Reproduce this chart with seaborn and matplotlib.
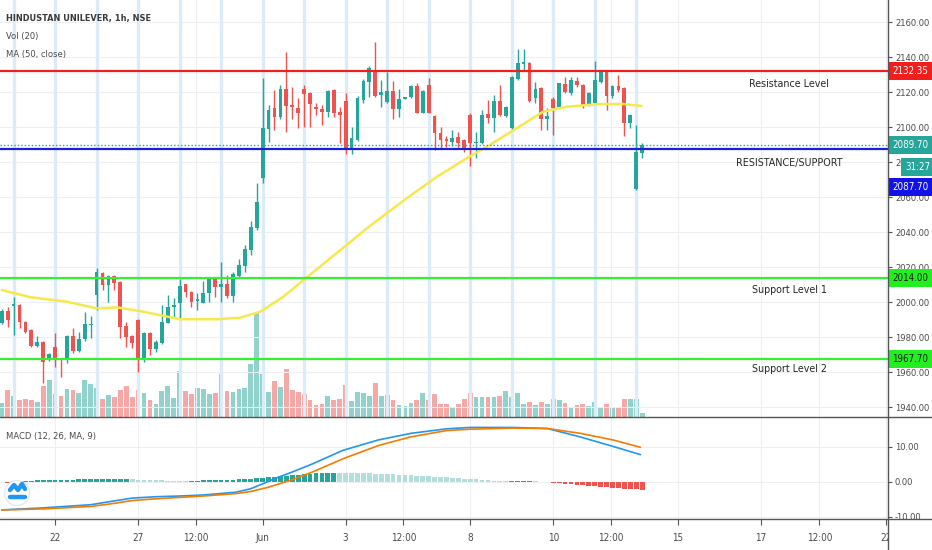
import numpy as np
import pandas as pd
import seaborn as sns
import matplotlib
matplotlib.use("Agg")
import matplotlib.pyplot as plt
import matplotlib.transforms as mtransforms
from matplotlib import font_manager
from matplotlib.ticker import FormatStrFormatter
from matplotlib.lines import Line2D
from matplotlib.patches import Circle

# HINDUSTAN UNILEVER, 1h candles (oldest first)
opens = [
    1988.4, 1995.3, 1998.0, 1998.5, 1989.0, 1984.3, 1975.1, 1977.6, 1967.1, 1974.4,
    1968.1, 1967.5, 1981.0, 1972.4, 1978.9, 1987.0, 2004.2, 2016.6, 2009.9, 2015.1,
    2011.8, 1986.7, 1981.0, 1990.0, 1967.5, 1982.4, 1973.2, 1977.0, 1988.4, 1997.6,
    1999.5, 2010.3, 2006.1, 2001.0, 1999.9, 2005.2, 2013.2, 2008.6, 2010.3, 2003.7,
    2015.1, 2020.8, 2029.9, 2042.3, 2070.9, 2098.9, 2110.9, 2105.7, 2121.7, 2112.8,
    2110.9, 2121.7, 2119.4, 2111.8, 2110.6, 2108.9, 2121.3, 2108.9, 2115.0, 2087.5,
    2092.8, 2115.6, 2126.1, 2132.7, 2118.5, 2114.6, 2120.7, 2110.6, 2116.3, 2117.1,
    2123.6, 2108.4, 2124.2, 2106.5, 2096.9, 2093.3, 2091.8, 2094.3, 2092.8, 2107.0,
    2090.9, 2090.9, 2107.4, 2105.2, 2115.2, 2106.5, 2099.4, 2127.4, 2136.0, 2136.9,
    2116.6, 2122.3, 2104.6, 2116.0, 2111.8, 2124.7, 2119.8, 2126.6, 2124.2, 2112.8,
    2114.1, 2126.1, 2131.8, 2117.9, 2123.6, 2122.3, 2102.3, 2064.6, 2085.5]
highs = [
    1996.0, 1997.6, 2003.3, 1999.0, 1989.5, 1985.0, 1981.0, 1978.0, 1971.0, 1982.4,
    1968.5, 1981.5, 1985.2, 1983.3, 1994.4, 1992.3, 2019.5, 2017.2, 2015.6, 2015.6,
    2012.3, 1989.0, 1981.5, 1990.5, 1983.0, 1983.0, 1978.5, 1998.5, 2004.2, 2002.4,
    2013.2, 2010.8, 2006.5, 2005.2, 2012.4, 2014.3, 2014.3, 2023.3, 2015.7, 2017.2,
    2024.8, 2032.8, 2046.7, 2068.2, 2128.0, 2112.7, 2121.3, 2124.2, 2143.2, 2122.9,
    2116.6, 2124.2, 2120.0, 2113.7, 2112.8, 2121.3, 2122.0, 2111.8, 2119.8, 2100.4,
    2118.0, 2127.5, 2135.0, 2148.9, 2127.0, 2131.8, 2126.6, 2121.7, 2117.5, 2124.0,
    2125.5, 2121.3, 2128.0, 2107.0, 2100.4, 2095.0, 2098.5, 2097.5, 2093.3, 2108.0,
    2097.5, 2109.9, 2115.6, 2118.5, 2124.2, 2112.0, 2129.2, 2144.6, 2144.6, 2137.5,
    2126.1, 2123.2, 2110.9, 2117.5, 2125.5, 2128.9, 2128.9, 2128.9, 2124.7, 2120.0,
    2137.9, 2132.5, 2132.4, 2124.0, 2129.9, 2123.0, 2107.5, 2101.3, 2091.2]
lows = [
    1987.5, 1986.1, 1981.4, 1985.2, 1982.4, 1974.5, 1974.7, 1954.2, 1966.5, 1963.3,
    1957.2, 1965.6, 1971.0, 1971.9, 1978.1, 1979.5, 1995.7, 2007.1, 2000.3, 2007.1,
    1979.5, 1974.7, 1973.8, 1960.4, 1966.0, 1970.0, 1971.5, 1976.0, 1988.0, 1991.8,
    1990.9, 2003.3, 1997.6, 1995.7, 1999.5, 2000.3, 2003.3, 2000.3, 2002.4, 2000.3,
    2014.5, 2017.5, 2027.1, 2041.4, 2068.0, 2091.8, 2098.5, 2105.0, 2097.5, 2104.6,
    2099.4, 2100.4, 2100.0, 2107.0, 2101.3, 2106.1, 2105.7, 2090.9, 2084.8, 2084.8,
    2092.0, 2114.0, 2117.5, 2117.5, 2111.8, 2113.7, 2104.6, 2105.7, 2116.0, 2116.5,
    2108.0, 2108.0, 2108.0, 2087.1, 2088.0, 2088.6, 2089.3, 2088.0, 2086.1, 2077.9,
    2082.3, 2090.5, 2102.3, 2097.5, 2106.5, 2106.0, 2099.0, 2127.0, 2132.7, 2114.5,
    2114.1, 2098.5, 2098.5, 2095.6, 2111.0, 2119.4, 2118.5, 2123.2, 2110.9, 2112.0,
    2113.5, 2125.5, 2109.9, 2117.0, 2120.3, 2095.1, 2099.4, 2064.0, 2082.7]
closes = [
    1995.3, 1990.0, 1999.0, 1989.0, 1983.3, 1975.1, 1977.6, 1966.1, 1970.5, 1967.7,
    1967.1, 1981.0, 1972.4, 1979.1, 1987.5, 1987.6, 2017.2, 2009.9, 2015.1, 2011.3,
    1986.2, 1980.4, 1977.0, 1967.5, 1982.4, 1973.2, 1977.6, 1988.7, 1997.6, 1998.3,
    2009.5, 2006.1, 2000.4, 2001.8, 2005.6, 2013.2, 2009.0, 2010.3, 2003.7, 2016.1,
    2021.4, 2030.3, 2042.9, 2057.2, 2099.4, 2109.9, 2105.7, 2121.7, 2112.2, 2111.4,
    2108.4, 2118.9, 2113.3, 2110.3, 2108.9, 2120.7, 2108.4, 2107.0, 2087.1, 2093.7,
    2116.6, 2126.6, 2133.7, 2118.0, 2120.3, 2120.7, 2110.6, 2116.0, 2117.1, 2123.6,
    2108.4, 2120.7, 2108.4, 2096.6, 2092.8, 2092.2, 2093.7, 2090.9, 2087.5, 2091.2,
    2091.8, 2107.0, 2105.2, 2115.2, 2107.0, 2111.4, 2128.6, 2136.9, 2137.5, 2115.2,
    2121.7, 2104.6, 2106.5, 2110.9, 2125.1, 2120.3, 2127.0, 2124.2, 2112.8, 2119.4,
    2127.0, 2131.8, 2117.9, 2123.6, 2121.3, 2102.3, 2107.0, 2086.1, 2089.7]
volume_k = [
    140, 267, 207, 173, 177, 167, 147, 313, 373, 227,
    213, 277, 267, 237, 373, 327, 290, 180, 223, 200,
    273, 310, 200, 267, 237, 167, 127, 257, 310, 190,
    457, 257, 227, 290, 277, 227, 237, 433, 257, 247,
    277, 290, 533, 1043, 433, 247, 357, 300, 483, 267,
    247, 227, 167, 117, 127, 210, 170, 183, 320, 160,
    250, 240, 210, 337, 207, 220, 170, 120, 107, 140,
    173, 240, 173, 227, 127, 127, 97, 127, 183, 237,
    197, 203, 203, 197, 207, 260, 197, 240, 127, 150,
    120, 150, 127, 177, 173, 140, 87, 120, 127, 107,
    147, 103, 133, 100, 100, 180, 183, 183, 43]
session_starts = [2, 9, 16, 23, 30, 37, 44, 51, 58, 65, 72, 79, 86, 93, 100, 107]

# MA (50, close) as drawn
ma_bar = [0, 4.8, 11, 16, 19.4, 23.9, 30.1, 36.3, 40.2, 43.6, 47.5, 50.9,
          55.4, 62.1, 68.3, 73.4, 78.4, 82.3, 86.8, 91.3, 95.3, 100.9, 104.8, 107.9]
ma_vals = [2007.1, 2003.0, 2000.4, 1996.6, 1997.2, 1994.7, 1990.4, 1990.4, 1991.3, 1994.7, 2003.3, 2012.8,
           2025.2, 2043.7, 2059.5, 2071.8, 2082.3, 2089.9, 2099.4, 2108.9, 2111.8, 2113.3, 2113.3, 2112.2]

# MACD (12, 26, MA, 9)
macd_bar = [0, 7, 15, 19, 22, 26, 30, 34, 39.5, 42, 44, 46.5, 49, 52.5, 57.5,
            63.5, 69, 75, 79, 86, 92, 97.5, 103, 107.7]
macd_vals = [-8.1, -7.5, -6.6, -5.5, -4.7, -4.3, -4.1, -3.8, -3.0, -2.0, -0.6, 1.2, 2.8, 5.2, 9.0,
             12.0, 13.9, 15.2, 15.6, 15.6, 15.3, 12.9, 10.2, 7.8]
signal_bar = [0, 7, 15, 19, 22, 26, 30, 34, 39.5, 42, 44.9, 48.7, 52.4, 57.7,
              63.7, 69, 75, 79, 86, 92, 97.6, 103.1, 107.7]
signal_vals = [-8.1, -7.8, -7.1, -6.2, -5.4, -4.9, -4.5, -4.1, -3.4, -2.8, -1.6, 0.4, 2.8, 6.7,
               10.5, 12.9, 14.7, 15.1, 15.4, 15.3, 13.9, 12.0, 9.9]
hist_vals = [
    -0.20, -0.30,
    0.25, 0.28, 0.31, 0.34, 0.37, 0.40,
    0.45, 0.50, 0.54, 0.58, 0.62, 0.66, 0.70, 0.74, 0.77, 0.80, 0.83, 0.86, 0.88, 0.90,
    0.75, 0.62, 0.52, 0.45, 0.40, 0.36, 0.33, 0.30, 0.28, 0.26,
    0.30, 0.34, 0.38, 0.42, 0.46, 0.50, 0.55, 0.60, 0.66, 0.72,
    0.85, 1.00, 1.15, 1.30, 1.45, 1.60, 1.75, 1.90, 2.05, 2.20, 2.32, 2.42, 2.50, 2.56, 2.60,
    2.58, 2.55, 2.52, 2.48, 2.44, 2.40, 2.35, 2.28, 2.20, 2.12, 2.03, 1.94, 1.85, 1.76, 1.66,
    1.56, 1.46, 1.36, 1.26, 1.15, 1.04, 0.93, 0.82, 0.70, 0.58, 0.46, 0.34, 0.22, 0.10,
    0.14, 0.18, 0.22, 0.25,
    0.20,
    -0.10, -0.20, -0.30, -0.42, -0.55, -0.68, -0.82, -0.96, -1.10, -1.24, -1.38, -1.52,
    -1.66, -1.80, -1.94, -2.06, -2.18, -2.30]

level_values = [2132.35, 2087.70, 2014.00, 1967.70]
level_names = ["Resistance Level", "RESISTANCE/SUPPORT", "Support Level 1", "Support Level 2"]
level_colors = ["#f21d1d", "#1a1fd9", "#33f033", "#33f033"]
last_price = 2089.70
countdown = "31:27"

time_ticks = [9, 23, 32.75, 44, 58, 67.75, 79, 93, 102.75, 114, 128, 137.9, 149.1]
time_labels = ["22", "27", "12:00", "Jun", "3", "12:00", "8", "10", "12:00", "15", "17", "12:00", "22"]
price_ticks = list(range(1940, 2161, 20))
macd_ticks = [-10, 0, 10]

sns.set_theme(style="white")

# the reference uses a narrow UI face; take a condensed one if the box has it
names = {f.name for f in font_manager.fontManager.ttflist}
has_dejavu_cond = any("Condensed" in f.fname and f.name == "DejaVu Sans"
                      for f in font_manager.fontManager.ttflist)
if "Liberation Sans Narrow" in names:
    plt.rcParams["font.family"] = ["Liberation Sans Narrow", "DejaVu Sans"]
    k = 1.0
elif has_dejavu_cond:
    plt.rcParams["font.family"] = ["DejaVu Sans"]
    plt.rcParams["font.stretch"] = "condensed"
    k = 0.93
else:
    plt.rcParams["font.family"] = ["Liberation Sans", "DejaVu Sans"]
    k = 0.85
FS_LEVEL = 8.2 * k
FS_AXIS = 7.3 * k
FS_LEGEND = 7.3 * k

UP, DOWN = "#26a69a", "#ef5350"
TXT = "#4a4a4a"
GRID = "#edf0f3"

df = pd.DataFrame({"open": opens, "high": highs, "low": lows, "close": closes, "vol": volume_k})
df["bar"] = np.arange(len(df))
df["color"] = np.where(df["close"] >= df["open"], UP, DOWN)

W, H = 932, 550
fig = plt.figure(figsize=(W / 100, H / 100), dpi=100)
fig.patch.set_facecolor("white")
ax = fig.add_axes([0, 1 - 417 / H, 888 / W, 417 / H])
axm = fig.add_axes([0, 31 / H, 888 / W, (519 - 417) / H])
axv = ax.twinx()
axv.set_zorder(0)
ax.set_zorder(1)
ax.patch.set_visible(False)
axv.set_axis_off()
ax.yaxis.tick_right()

xlim = (-0.29, 149.46)
for a in (ax, axm, axv):
    a.set_xlim(*xlim)
ax.set_ylim(1934.57, 2172.72)
axm.set_ylim(-10.7, 18.6)
axv.set_ylim(0, 4170)

# volume
axv.bar(df["bar"], df["vol"], width=0.8, color=df["color"], alpha=0.5, linewidth=0)

# session start bands
for s in session_starts:
    ax.axvline(s, color="#dcebf8", lw=2.4, zorder=0.6)

# candles
ax.vlines(df["bar"], df["low"], df["high"], colors=df["color"], lw=1.0, zorder=3)
body = (df["close"] - df["open"]).abs().clip(lower=0.6)
ax.bar(df["bar"], body, bottom=df[["open", "close"]].min(axis=1), width=0.64,
       color=df["color"], linewidth=0, zorder=3)

sns.lineplot(x=ma_bar, y=ma_vals, ax=ax, color="#f7e84c", linewidth=1.8, zorder=4)

# horizontal levels
for v, c in zip(level_values, level_colors):
    ax.axhline(v, color=c, lw=1.6, zorder=5)
ax.axhline(last_price, color=UP, lw=1.0, ls=(0, (1, 1.5)), zorder=5)

ytr = ax.get_yaxis_transform()
level_off = [-13, -14, -12, -10]
for v, name, off in zip(level_values, level_names, level_off):
    t = mtransforms.offset_copy(ytr, fig=fig, y=off, units="dots")
    ax.text(789 / 888, v, name, transform=t, ha="center", va="center",
            fontsize=FS_LEVEL, color="#262626", zorder=6)

# price scale tags
def tag(value, text, fc, tc="white", dx=4, dy=0):
    t = mtransforms.offset_copy(ytr, fig=fig, x=dx, y=dy, units="dots")
    ax.text(1.0, value, text, transform=t, ha="left", va="center", fontsize=FS_AXIS + 0.2,
            color=tc, clip_on=False, zorder=10,
            bbox=dict(boxstyle="square,pad=0.4", fc=fc, ec="none"))

tag(level_values[0], "2132.35", level_colors[0])
tag(last_price, "2089.70", UP)
tag(last_price, countdown, UP, dx=17, dy=-22)
tag(level_values[1], "2087.70", "#1212e8", dy=-38)
tag(level_values[2], "2014.00", "#22ee22", tc="#1a1a1a")
tag(level_values[3], "1967.70", "#22ee22", tc="#1a1a1a")

# MACD pane
hist = pd.Series(hist_vals)
prev = hist.shift(1).fillna(hist.iloc[0] - 0.01)
hcol = np.where(hist >= 0, np.where(hist > prev, "#26a69a", "#b2dfdb"),
                np.where(hist < prev, "#ef5350", "#ffcdd2"))
axm.bar(df["bar"], hist, width=0.8, color=hcol, linewidth=0, zorder=2)
sns.lineplot(x=macd_bar, y=macd_vals, ax=axm, color="#2196f3", linewidth=1.2, zorder=3)
sns.lineplot(x=signal_bar, y=signal_vals, ax=axm, color="#f57c00", linewidth=1.2, zorder=3)

# axes cosmetics
for a in (ax, axm):
    for sp in a.spines.values():
        sp.set_visible(False)
    a.set_xlabel("")
    a.set_ylabel("")
    a.set_xticks(time_ticks)
    a.grid(True, color=GRID, lw=0.8)
    a.set_axisbelow(True)
    a.yaxis.set_major_formatter(FormatStrFormatter("%.2f"))
ax.set_yticks(price_ticks)
axm.set_yticks(macd_ticks)
axm.yaxis.tick_right()
ax.tick_params(axis="x", length=0, labelbottom=False)
axm.set_xticklabels(time_labels)
for a in (ax, axm):
    a.tick_params(axis="y", right=True, left=False, labelright=True, labelleft=False,
                  length=3, width=0.8, color="#555555", pad=2, labelsize=FS_AXIS, labelcolor=TXT)
axm.tick_params(axis="x", bottom=True, length=4, width=0.8, color="#555555", pad=6,
                labelsize=FS_AXIS + 0.3, labelcolor=TXT)

clip_x = mtransforms.TransformedBbox(mtransforms.Bbox([[0, 0], [888 / W, 1]]), fig.transFigure)
for lbl in axm.get_xticklabels():
    lbl.set_clip_box(clip_x)
    lbl.set_clip_on(True)
clip_m = mtransforms.TransformedBbox(mtransforms.Bbox([[0, 31 / H], [1, 417 / H]]), fig.transFigure)
for lbl in axm.get_yticklabels():
    lbl.set_clip_box(clip_m)
    lbl.set_clip_on(True)

# pane borders
fig.add_artist(Line2D([888 / W, 888 / W], [0, 1], transform=fig.transFigure, color="#555555", lw=1))
fig.add_artist(Line2D([0, 1], [1 - 417 / H] * 2, transform=fig.transFigure, color="#555555", lw=1))
fig.add_artist(Line2D([0, 1], [31 / H] * 2, transform=fig.transFigure, color="#555555", lw=1))

# legends / titles
fig.text(6 / W, 1 - 18 / H, "HINDUSTAN UNILEVER, 1h, NSE", fontsize=FS_LEGEND - 0.2,
         fontweight="bold", color="#3a3a3a", va="center")
fig.text(6 / W, 1 - 37 / H, "Vol (20)", fontsize=FS_LEGEND, color=TXT, va="center")
fig.text(6 / W, 1 - 55 / H, "MA (50, close)", fontsize=FS_LEGEND, color=TXT, va="center")
fig.text(6 / W, 1 - 436 / H, "MACD (12, 26, MA, 9)", fontsize=FS_LEGEND, color=TXT, va="center")

# small logo badge
px = mtransforms.IdentityTransform()
fig.add_artist(Circle((17, H - 493), 12.5, transform=px, fc="white", ec="#e6e8ec", lw=1, zorder=8))
fig.add_artist(Line2D([10, 14, 18, 22, 25], [H - 490, H - 485, H - 490, H - 484, H - 489],
                      transform=px, color="#2196f3", lw=3.2, solid_capstyle="round",
                      solid_joinstyle="round", zorder=9))
fig.add_artist(Line2D([10, 25], [H - 497, H - 497], transform=px, color="#2196f3", lw=3.2,
                      solid_capstyle="round", zorder=9))

fig.savefig("out.png", dpi=100, facecolor="white")
